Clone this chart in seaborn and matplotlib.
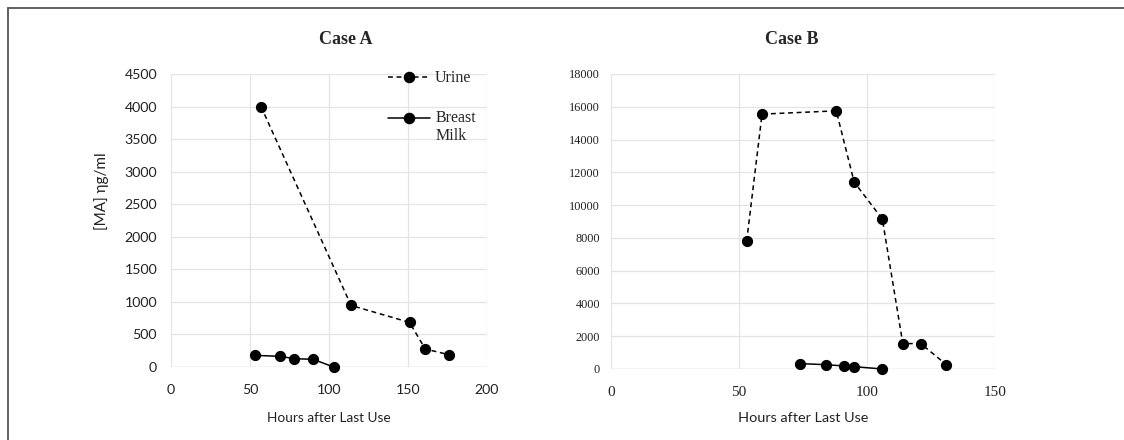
import matplotlib
matplotlib.use("Agg")
import matplotlib.pyplot as plt
from matplotlib.lines import Line2D
from matplotlib.legend_handler import HandlerLine2D
import seaborn as sns
import pandas as pd

# Case A measurements (hours after last use, methamphetamine concentration ng/ml)
case_a_urine_hours = [57, 114, 151, 161, 176]
case_a_urine_conc = [4000, 946, 685, 276, 189]
case_a_milk_hours = [53, 69, 78, 90, 103]
case_a_milk_conc = [179, 164, 128, 118, 0]

# Case B measurements
case_b_urine_hours = [53, 59, 88, 95, 106, 114, 121, 131]
case_b_urine_conc = [7800, 15550, 15750, 11400, 9150, 1550, 1550, 264]
case_b_milk_hours = [74, 84, 91, 95, 106]
case_b_milk_conc = [325, 264, 183, 142, 0]

case_a_xticks = [0, 50, 100, 150, 200]
case_a_yticks = [0, 500, 1000, 1500, 2000, 2500, 3000, 3500, 4000, 4500]
case_b_xticks = [0, 50, 100, 150]
case_b_yticks = [0, 2000, 4000, 6000, 8000, 10000, 12000, 14000, 16000, 18000]

titles = ["Case A", "Case B"]
x_label = "Hours after Last Use"
y_label = "[MA] \u03b7g/ml"
series_names = ["Urine", "Breast\nMilk"]

sns.set_theme(style="whitegrid")
plt.rcParams["font.family"] = ["Lato", "DejaVu Sans"]

SERIF = ["Liberation Serif", "DejaVu Serif"]
SANS = ["Lato", "DejaVu Sans"]
GRID = "#e4e4e4"
TXT = "#222222"
LEG_SIZE = 11.5

fig = plt.figure(figsize=(11.24, 4.4), dpi=100)
fig.patch.set_facecolor("white")

ax_a = fig.add_axes([0.1521, 0.1659, 0.2811, 0.6659])
ax_b = fig.add_axes([0.5436, 0.1614, 0.3416, 0.6705])


def draw_case(ax, uh, uc, mh, mc):
    urine = pd.DataFrame({"hours": uh, "conc": uc})
    milk = pd.DataFrame({"hours": mh, "conc": mc})
    sns.lineplot(data=urine, x="hours", y="conc", ax=ax, color="black",
                 linestyle=(0, (3.2, 2.4)), linewidth=1.1, marker="o",
                 markersize=7.3, markeredgecolor="black", clip_on=False,
                 zorder=4)
    sns.lineplot(data=milk, x="hours", y="conc", ax=ax, color="black",
                 linestyle="-", linewidth=1.1, marker="o", markersize=7.3,
                 markeredgecolor="black", clip_on=False, zorder=4)
    for s in ax.spines.values():
        s.set_visible(False)
    ax.grid(True, color=GRID, linewidth=0.9)
    ax.set_axisbelow(True)
    ax.axhline(0, color="#d6d6d6", linewidth=1.0, zorder=1)
    ax.tick_params(axis="both", length=0)


draw_case(ax_a, case_a_urine_hours, case_a_urine_conc,
          case_a_milk_hours, case_a_milk_conc)
draw_case(ax_b, case_b_urine_hours, case_b_urine_conc,
          case_b_milk_hours, case_b_milk_conc)

# Case A axes: sans-serif ticks
ax_a.set_xlim(0, 200)
ax_a.set_ylim(0, 4500)
ax_a.set_xticks(case_a_xticks)
ax_a.set_yticks(case_a_yticks)
ax_a.set_xticklabels([str(v) for v in case_a_xticks], family=SANS,
                     fontsize=10.2, color=TXT)
ax_a.set_yticklabels([str(v) for v in case_a_yticks], family=SANS,
                     fontsize=10.2, color=TXT)
ax_a.tick_params(axis="y", pad=10)
ax_a.tick_params(axis="x", pad=12)
ax_a.set_xlabel(x_label, family=SANS, fontsize=9.8, color=TXT)
ax_a.xaxis.set_label_coords(0.5, -0.152)
ax_a.set_ylabel(y_label, family=SANS, fontsize=11, color=TXT)
ax_a.yaxis.set_label_coords(-0.196, 0.6)

# Case B axes: serif ticks
ax_b.set_xlim(0, 150)
ax_b.set_ylim(0, 18000)
ax_b.set_xticks(case_b_xticks)
ax_b.set_yticks(case_b_yticks)
ax_b.set_xticklabels([str(v) for v in case_b_xticks], family=SERIF,
                     fontsize=11, color=TXT)
ax_b.set_yticklabels([str(v) for v in case_b_yticks], family=SERIF,
                     fontsize=8.8, color=TXT)
ax_b.tick_params(axis="y", pad=8)
ax_b.tick_params(axis="x", pad=12)
ax_b.set_xlabel(x_label, family=SANS, fontsize=10.4, color=TXT)
ax_b.xaxis.set_label_coords(0.5, -0.145)
ax_b.set_ylabel("")


class FirstLineHandler(HandlerLine2D):
    """Aligns the legend key with the first line of a multi-line label."""

    def __init__(self, shift, **kw):
        super().__init__(**kw)
        self.shift = shift

    def create_artists(self, legend, orig_handle, xdescent, ydescent,
                       width, height, fontsize, trans):
        return super().create_artists(legend, orig_handle, xdescent,
                                      ydescent - 2 * self.shift, width,
                                      height, fontsize, trans)


# Legend in the Case A panel
urine_key = Line2D([], [], color="black", linestyle=(0, (3.2, 2.4)),
                   linewidth=1.1, marker="o", markersize=7.3)
milk_key = Line2D([], [], color="black", linestyle="-", linewidth=1.1,
                  marker="o", markersize=7.3)
ax_a.legend([urine_key, milk_key], series_names, loc="upper left",
            bbox_to_anchor=(0.687, 1.012), frameon=False,
            prop={"family": SERIF, "size": LEG_SIZE}, handlelength=2.6,
            handletextpad=0.35, labelspacing=1.45, borderpad=0,
            borderaxespad=0,
            handler_map={milk_key: FirstLineHandler(shift=0.6 * LEG_SIZE)})

fig.text(346 / 1124, 1 - 39 / 440, titles[0], family=SERIF, fontsize=13,
         fontweight="bold", ha="center", va="center")
fig.text(792 / 1124, 1 - 39 / 440, titles[1], family=SERIF, fontsize=13,
         fontweight="bold", ha="center", va="center")

# Outer border (top and left edges)
fig.add_artist(Line2D([8 / 1124, 1.0], [1 - 8 / 440, 1 - 8 / 440],
                      transform=fig.transFigure, color="#555555",
                      linewidth=1.3))
fig.add_artist(Line2D([8 / 1124, 8 / 1124], [0.0, 1 - 8 / 440],
                      transform=fig.transFigure, color="#555555",
                      linewidth=1.3))

fig.savefig("out.png", dpi=100, facecolor="white")
